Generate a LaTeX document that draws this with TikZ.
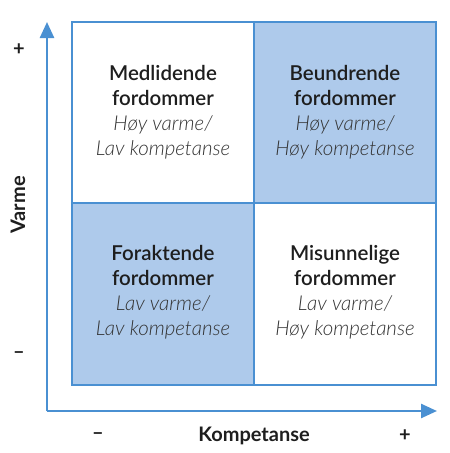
\documentclass[tikz,border=0pt]{standalone}
\usepackage{fontspec}
\setmainfont{Lato}
\newfontfamily\lightit[ItalicFont={Lato Light Italic}]{Lato Light}
\newfontfamily\semib{Lato Semibold}
\usetikzlibrary{arrows.meta}
\definecolor{axisblue}{HTML}{4A90D2}
\definecolor{cellfill}{HTML}{AECAEB}
\definecolor{ink}{HTML}{1E1E1E}
\definecolor{softink}{HTML}{333333}
\newcommand{\headtxt}[1]{{\semib #1}}
\newcommand{\subtxt}[1]{{\lightit\itshape\color{softink}#1}}
\begin{document}
\begin{tikzpicture}[x=1pt,y=-1pt,
  cell/.style={draw=axisblue,line width=2pt},
  celltext/.style={align=center,text=ink,font=\fontsize{20.5}{25}\selectfont},
  axislabel/.style={text=ink,font=\bfseries\fontsize{20}{22}\selectfont},
  axisline/.style={draw=axisblue,line width=2.5pt,-{Triangle[length=16pt,width=14pt]}}]
\useasboundingbox (0,0) rectangle (450,453);
\fill[white] (0,0) rectangle (450,453);
\coordinate (o) at (47,411);
\coordinate (ytip) at (47,22);
\coordinate (xtip) at (437,411);
\draw[cell,fill=white] (72,22) rectangle (254,203);
\draw[cell,fill=cellfill] (254,22) rectangle (436,203);
\draw[cell,fill=cellfill] (72,203) rectangle (254,385);
\draw[cell,fill=white] (254,203) rectangle (436,385);
\draw[axisline] (o) -- (ytip);
\draw[axisline] (o) -- (xtip);
\node[celltext] (q1) at (163,112) {\headtxt{Medlidende}\\\headtxt{fordommer}\\\subtxt{Høy varme/}\\\subtxt{Lav kompetanse}};
\node[celltext] (q2) at (345,112) {\headtxt{Beundrende}\\\headtxt{fordommer}\\\subtxt{Høy varme/}\\\subtxt{Høy kompetanse}};
\node[celltext] (q3) at (163,292) {\headtxt{Foraktende}\\\headtxt{fordommer}\\\subtxt{Lav varme/}\\\subtxt{Lav kompetanse}};
\node[celltext] (q4) at (345,292) {\headtxt{Misunnelige}\\\headtxt{fordommer}\\\subtxt{Lav varme/}\\\subtxt{Høy kompetanse}};
\node[axislabel] (xlab) at (254,436) {Kompetanse};
\node[axislabel] (xminus) at (98,436) {–};
\node[axislabel] (xplus) at (405,436) {+};
\node[axislabel,rotate=90] (ylab) at (18,205) {Varme};
\node[axislabel] (yplus) at (19,50) {+};
\node[axislabel] (yminus) at (19,355) {–};
\end{tikzpicture}
\end{document}
